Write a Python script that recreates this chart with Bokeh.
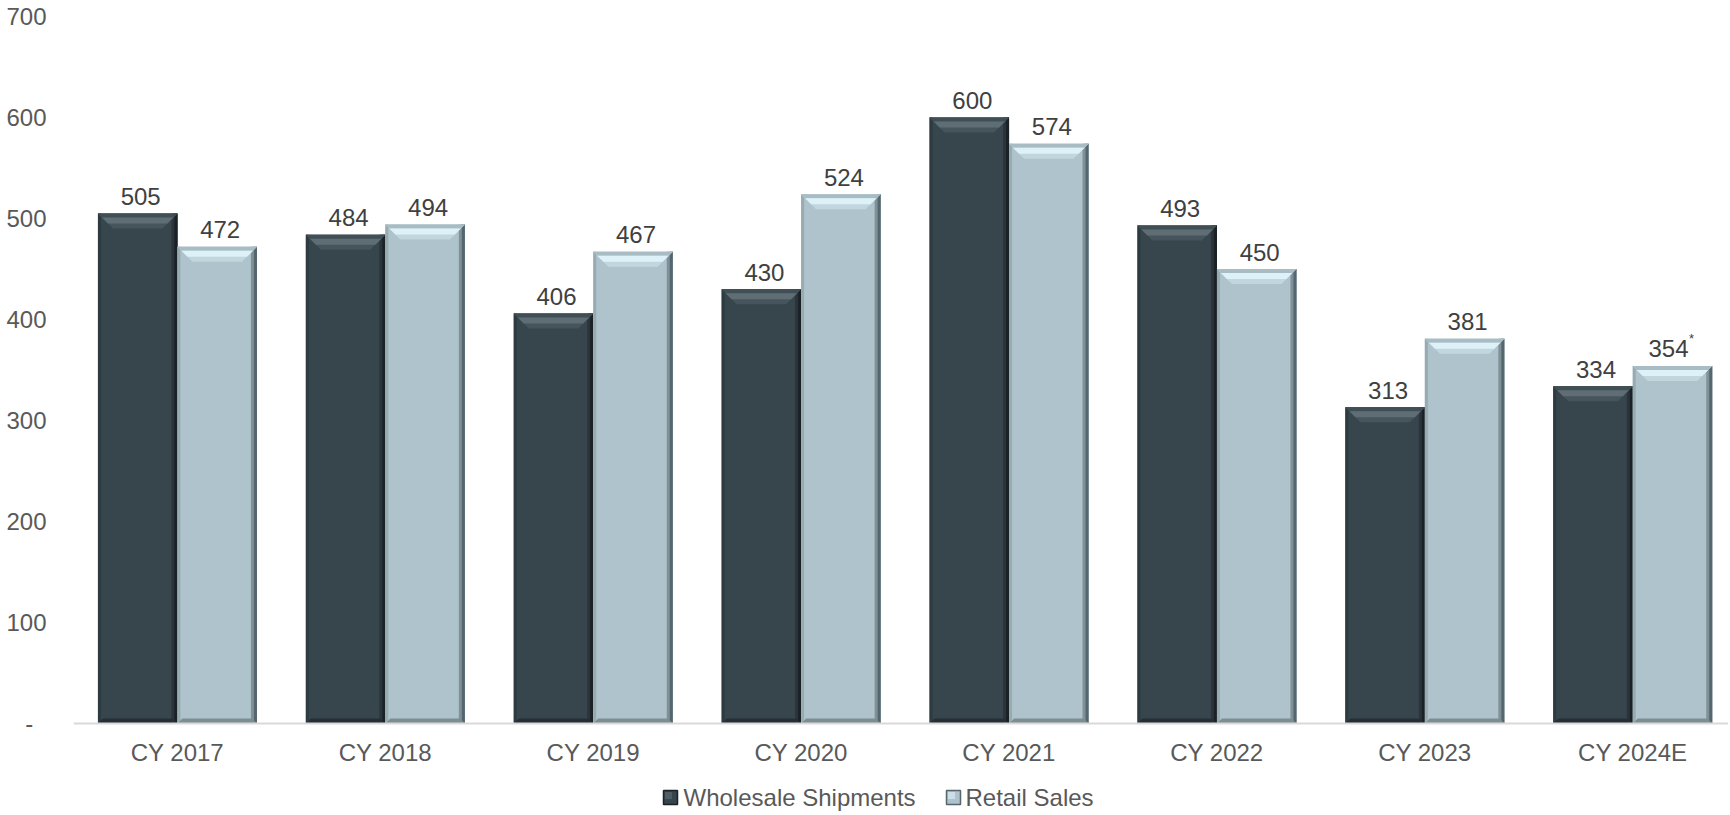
from bokeh.plotting import figure
from bokeh.models import Range1d, FixedTicker, Span
from bokeh.core.properties import value
from bokeh.embed import file_html
from bokeh.resources import INLINE

# ---- data ----
categories = ["CY 2017", "CY 2018", "CY 2019", "CY 2020", "CY 2021", "CY 2022", "CY 2023", "CY 2024E"]
wholesale = [505, 484, 406, 430, 600, 493, 313, 334]
retail = [472, 494, 467, 524, 574, 450, 381, 354]
retail_notes = ["", "", "", "", "", "", "", "*"]
series_names = ["Wholesale Shipments", "Retail Sales"]
y_ticks = [0, 100, 200, 300, 400, 500, 600, 700]
y_tick_labels = ["-\u00a0\u00a0", "100", "200", "300", "400", "500", "600", "700"]

FONT = "Liberation Sans"
FS = "24px"
W, H = 1728, 812
BL, BT = 73, 16
FRAME_W = W - BL
FRAME_H_ALL = H - BT          # frame runs to the bottom of the canvas
PLOT_H = 707                   # pixels from value 0 to the top value
PX_PER_CAT = 207.9
X_END = FRAME_W / PX_PER_CAT
Y_MAX = y_ticks[-1]
UX = 1.0 / PX_PER_CAT
UY = Y_MAX / PLOT_H
Y_MIN = -(FRAME_H_ALL - PLOT_H) * UY
BAR_W = 0.3824

p = figure(width=W, height=H, output_backend="svg", toolbar_location=None,
           x_range=Range1d(0, X_END), y_range=Range1d(Y_MIN, Y_MAX),
           x_axis_location=None,
           min_border_left=BL, min_border_top=BT, min_border_right=0, min_border_bottom=0)
p.outline_line_color = None
p.grid.grid_line_color = None
p.background_fill_color = "white"
p.border_fill_color = "white"

centers = [i + 0.5 for i in range(len(categories))]

styles = [
    dict(face="#37454d", left="#2e3a41", right1="#2a343a", right2="#1b2226", bottom="#262f34",
         band_top="#404e55", band_hi="#5f6e75", band_low="#46545b"),
    dict(face="#afc3cc", left="#98abb3", right1="#7f9099", right2="#56666d", bottom="#7d8d94",
         band_top="#a9bcc4", band_hi="#dcf1f8", band_low="#c2d6de"),
]

for s_idx, (vals, st) in enumerate(zip([wholesale, retail], styles)):
    x0s, x1s = [], []
    for c in centers:
        if s_idx == 0:
            x0s.append(c - BAR_W); x1s.append(c)
        else:
            x0s.append(c); x1s.append(c + BAR_W)
    zeros = [0] * len(vals)
    p.quad(left=x0s, right=x1s, bottom=zeros, top=vals, fill_color=st["face"], line_color=None)
    # side strips
    p.quad(left=x0s, right=[a + 3 * UX for a in x0s], bottom=zeros, top=vals,
           fill_color=st["left"], line_color=None)
    p.quad(left=[b - 6 * UX for b in x1s], right=x1s, bottom=zeros, top=vals,
           fill_color=st["right1"], line_color=None)
    p.quad(left=[b - 3 * UX for b in x1s], right=x1s, bottom=zeros, top=vals,
           fill_color=st["right2"], line_color=None)
    # bottom bevel
    bxs = [[a, b, b - 5 * UX, a + 5 * UX] for a, b in zip(x0s, x1s)]
    bys = [[0, 0, 5 * UY, 5 * UY] for _ in vals]
    p.patches(bxs, bys, fill_color=st["bottom"], line_color=None)

    # top bevel band layers
    def trap(d0, d1):
        xs = [[a + d0 * UX, b - d0 * UX, b - d1 * UX, a + d1 * UX] for a, b in zip(x0s, x1s)]
        ys = [[v - d0 * UY, v - d0 * UY, v - d1 * UY, v - d1 * UY] for v in vals]
        return xs, ys
    xs, ys = trap(0, 15)
    p.patches(xs, ys, fill_color=st["band_low"], line_color=None)
    xs, ys = trap(0, 4)
    p.patches(xs, ys, fill_color=st["band_top"], line_color=None)
    xs, ys = trap(4, 10)
    p.patches(xs, ys, fill_color=st["band_hi"], line_color=None)

    # data labels
    mids = [(a + b) / 2 for a, b in zip(x0s, x1s)]
    labels = [str(v) for v in vals]
    if s_idx == 1:
        offs = [-4 if n else 3 for n in retail_notes]
    else:
        offs = [3] * len(vals)
    p.text(x=mids, y=vals, text=labels, x_offset=offs, y_offset=-17,
           text_align="center", text_baseline="alphabetic",
           text_font=value(FONT), text_font_size=FS, text_color="#404040")
    if s_idx == 1:
        nx = [m for m, n in zip(mids, retail_notes) if n]
        ny = [v for v, n in zip(vals, retail_notes) if n]
        nt = [n for n in retail_notes if n]
        p.text(x=nx, y=ny, text=nt, x_offset=19, y_offset=-27,
               text_align="center", text_baseline="alphabetic",
               text_font=value(FONT), text_font_size="13px", text_color="#404040")

# category axis line and labels (drawn inside the extended frame)
p.add_layout(Span(location=0, dimension="width", line_color="#d9d9d9", line_width=2))
p.text(x=centers, y=[0] * len(centers), text=categories, y_offset=29,
       text_align="center", text_baseline="middle",
       text_font=value(FONT), text_font_size=FS, text_color="#595959")

# y axis
p.yaxis.ticker = FixedTicker(ticks=y_ticks)
p.yaxis.major_label_overrides = {t: lab for t, lab in zip(y_ticks, y_tick_labels)}
p.yaxis.axis_line_color = None
p.yaxis.major_tick_line_color = None
p.yaxis.minor_tick_line_color = None
p.yaxis.major_tick_out = 0
p.yaxis.major_label_standoff = 27
p.yaxis.major_label_text_font = FONT
p.yaxis.major_label_text_font_size = FS
p.yaxis.major_label_text_color = "#595959"

# legend (pixel layout converted to data units)
LEG_DY = 74                      # px below the zero line
leg_y = -LEG_DY * UY
sq_px = [597, 880]               # square centres, px from frame left
txt_px = [610, 892]              # label starts, px from frame left
sq_x = [v * UX for v in sq_px]
txt_x = [v * UX for v in txt_px]
p.rect(x=sq_x, y=[leg_y] * 2, width=14 * UX, height=14 * UY,
       fill_color=[styles[0]["face"], styles[1]["face"]],
       line_color=[styles[0]["right2"], styles[1]["right2"]], line_width=1.5)
p.rect(x=[v - 2 * UX for v in sq_x], y=[leg_y + 2 * UY] * 2, width=7 * UX, height=7 * UY,
       fill_color=[styles[0]["band_hi"], styles[1]["band_hi"]], line_color=None, fill_alpha=0.6)
p.text(x=txt_x, y=[leg_y] * 2, text=series_names, text_align="left", text_baseline="middle",
       text_font=value(FONT), text_font_size=FS, text_color="#595959")

open("out.html", "w").write(file_html(p, INLINE))
